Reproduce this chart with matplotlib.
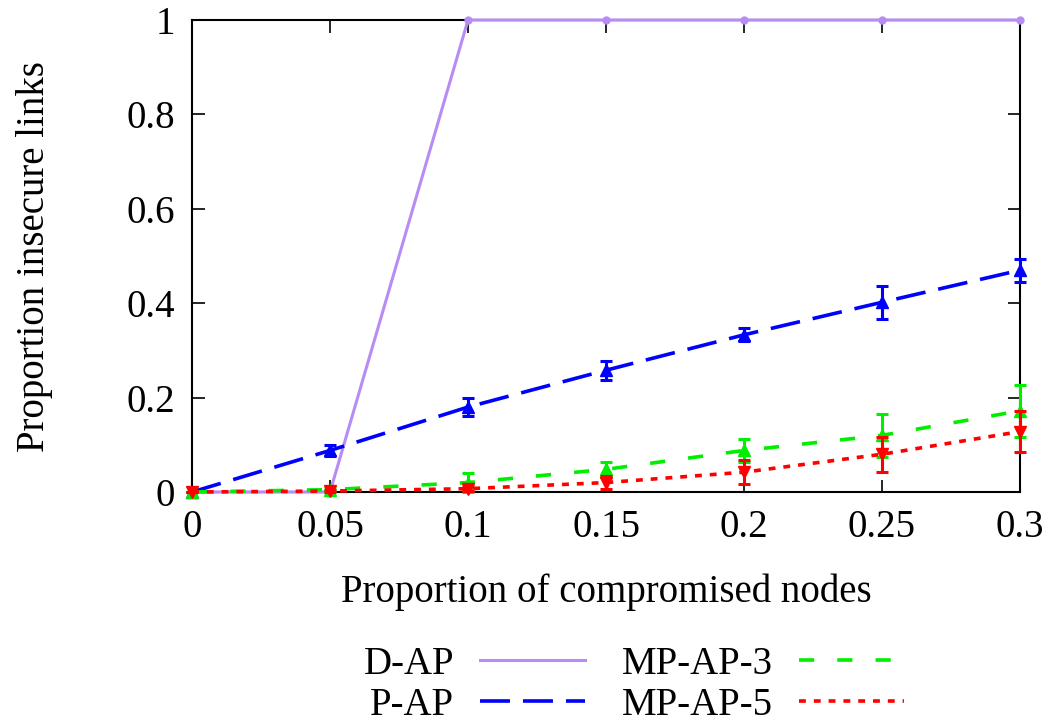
import numpy as np
import matplotlib
matplotlib.use("Agg")
import matplotlib.pyplot as plt
from matplotlib.lines import Line2D

plt.rcParams['font.family'] = ['Liberation Serif', 'DejaVu Serif']

x = [0, 0.05, 0.1, 0.15, 0.2, 0.25, 0.3]

d_ap = [0, 0, 1, 1, 1, 1, 1]

p_ap = [0, 0.088, 0.18, 0.258, 0.333, 0.402, 0.47]
p_ap_err = [0, 0.012, 0.02, 0.02, 0.014, 0.035, 0.024]

mp3 = [0, 0.005, 0.02, 0.048, 0.088, 0.12, 0.172]
mp3_err = [0, 0.003, 0.02, 0.016, 0.024, 0.045, 0.055]

mp5 = [0, 0.002, 0.007, 0.02, 0.042, 0.08, 0.128]
mp5_err = [0, 0.002, 0.005, 0.014, 0.025, 0.037, 0.043]

c_d = '#b88cf5'
c_p = '#0000ff'
c_3 = '#00ee00'
c_5 = '#ff0000'
fs = 28
lw = 2.6
dash_p = (8.3, 3.6)
dash_3 = (4.2, 6.4)
dash_5 = (1.9, 2.2)

fig = plt.figure(figsize=(10.51, 7.23), dpi=100)
ax = fig.add_axes([0.1827, 0.3195, 0.7878, 0.6528])

ax.plot(x, d_ap, color=c_d, lw=2.2, marker='o', ms=5, clip_on=False, zorder=3)
err_kw = dict(ms=9, capsize=4, elinewidth=2.2, capthick=2.2, clip_on=False)
ax.errorbar(x, p_ap, yerr=p_ap_err, color=c_p, lw=lw, dashes=dash_p,
            marker='^', zorder=4, **err_kw)
ax.errorbar(x, mp3, yerr=mp3_err, color=c_3, lw=lw, dashes=dash_3,
            marker='^', zorder=4, **err_kw)
ax.errorbar(x, mp5, yerr=mp5_err, color=c_5, lw=lw, dashes=dash_5,
            marker='v', zorder=5, **err_kw)

ax.set_xlim(0, 0.3)
ax.set_ylim(0, 1)
ax.set_xticks(x)
ax.set_xticklabels(['0', '0.05', '0.1', '0.15', '0.2', '0.25', '0.3'])
ax.set_yticks([0, 0.2, 0.4, 0.6, 0.8, 1])
ax.set_yticklabels(['0', '0.2', '0.4', '0.6', '0.8', '1'])
ax.tick_params(direction='in', length=9, width=1.2, labelsize=fs,
               top=True, right=True, pad=12)
for s in ax.spines.values():
    s.set_linewidth(1.5)

fig.text(0.5766, 0.181, 'Proportion of compromised nodes', fontsize=fs,
         ha='center', va='center')
fig.text(0.0333, 0.645, 'Proportion insecure links', fontsize=fs,
         ha='center', va='center', rotation=90)

handles = [
    Line2D([], [], color=c_d, lw=2.2),
    Line2D([], [], color=c_p, lw=lw, dashes=dash_p),
    Line2D([], [], color=c_3, lw=lw, dashes=dash_3),
    Line2D([], [], color=c_5, lw=lw, dashes=dash_5),
]
labels = ['D-AP', 'P-AP', 'MP-AP-3', 'MP-AP-5']
fig.legend(handles, labels, loc='center', bbox_to_anchor=(0.603, 0.053),
           ncol=2, frameon=False, markerfirst=False, fontsize=fs,
           handlelength=2.7, columnspacing=0.93, labelspacing=0.1,
           handletextpad=0.67, borderpad=0)

fig.savefig('out.png', dpi=100)
